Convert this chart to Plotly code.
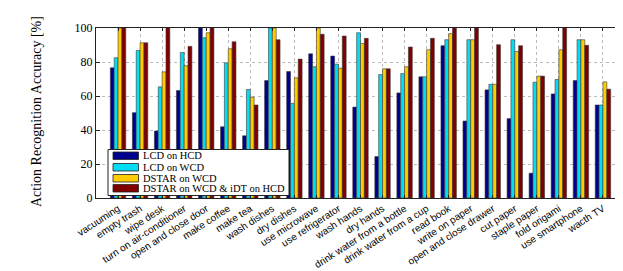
import plotly.graph_objects as go

categories = ["vacuuming", "empty trash", "wipe desk", "turn on air-conditioner",
              "open and close door", "make coffee", "make tea", "wash dishes",
              "dry dishes", "use microwave", "use refrigerator", "wash hands",
              "dry hands", "drink water from a bottle", "drink water from a cup",
              "read book", "write on paper", "open and close drawer", "cut paper",
              "staple paper", "fold origami", "use smartphone", "wacth TV"]

lcd_hcd = [76.6, 50.2, 39.4, 63.2, 100, 41.9, 36.6, 69.1, 74.4, 84.8, 83.5, 53.5,
           24.4, 61.8, 71.3, 89.6, 45.3, 63.6, 46.7, 14.6, 61.2, 69.1, 54.7]
lcd_wcd = [82.5, 86.8, 65.4, 85.6, 94.3, 79.5, 63.8, 100, 55.7, 77.2, 78.7, 97.2,
           72.6, 73.2, 71.3, 93.1, 93.1, 66.9, 93.1, 68.1, 69.7, 93.1, 54.7]
dstar_wcd = [100, 91.3, 74.2, 77.8, 97.2, 87.8, 59.3, 100, 70.7, 100, 76.4, 90.9,
             76.0, 77.2, 87.2, 96.7, 93.1, 66.9, 86.2, 71.7, 87.2, 93.1, 68.3]
dstar_idt = [100, 91.3, 100, 89.2, 100, 91.9, 54.7, 93.1, 81.7, 96.3, 95.3, 93.9,
             76.0, 88.8, 93.9, 100, 100, 90.2, 89.6, 71.7, 100, 89.8, 64.0]

series_names = ["LCD on HCD", "LCD on WCD", "DSTAR on WCD", "DSTAR on WCD & iDT on HCD"]
series_values = [lcd_hcd, lcd_wcd, dstar_wcd, dstar_idt]
colors = ["#00008C", "#00DDF5", "#FFCC00", "#800000"]
y_ticks = [0, 20, 40, 60, 80, 100]
y_title = "Action Recognition Accuracy [%]"

W, H = 623, 271
L, R, T, B = 88, 6, 20, 81
pw, ph = W - L - R, H - T - B

fig = go.Figure()
for name, vals, col in zip(series_names, series_values, colors):
    fig.add_trace(go.Bar(x=categories, y=vals, name=name, marker_color=col,
                         marker_line=dict(color="#3a3a3a", width=0.6),
                         showlegend=False))


def px2paper(x, y):
    return (x - L) / pw, (T + ph - y) / ph


shapes = []
annotations = []
# legend box
x0, y0 = px2paper(100, 141.5)
x1, y1 = px2paper(281, 187.5)
shapes.append(dict(type="rect", xref="paper", yref="paper", x0=x0, y0=y1, x1=x1, y1=y0,
                   fillcolor="white", line=dict(color="#222", width=1), layer="above"))
row_tops = [144, 155.5, 166.5, 176.5]
for name, col, top in zip(series_names, colors, row_tops):
    sx0, sy0 = px2paper(105, top)
    sx1, sy1 = px2paper(130.5, top + 7.5)
    shapes.append(dict(type="rect", xref="paper", yref="paper", x0=sx0, y0=sy1, x1=sx1, y1=sy0,
                       fillcolor=col, line=dict(color="#222", width=0.8), layer="above"))
    tx, ty = px2paper(133, top + 3.75)
    annotations.append(dict(xref="paper", yref="paper", x=tx, y=ty, text=name,
                            showarrow=False, xanchor="left", yanchor="middle",
                            font=dict(family="Liberation Serif", size=10.5, color="black")))

# y-axis title
ttx, tty = px2paper(28, 104)
annotations.append(dict(xref="paper", yref="paper", x=ttx, y=tty, text=y_title,
                        textangle=-90, showarrow=False, xanchor="center", yanchor="middle",
                        font=dict(family="Liberation Serif", size=14, color="black")))

fig.update_layout(
    width=W, height=H,
    margin=dict(l=L, r=R, t=T, b=B, autoexpand=False),
    paper_bgcolor="white", plot_bgcolor="white",
    barmode="group", bargap=0.3, bargroupgap=0,
    shapes=shapes, annotations=annotations,
    xaxis=dict(range=[-1, 23], tickangle=-33, type="category",
               tickfont=dict(family="Liberation Sans", size=10, color="black"),
               ticklabelstandoff=0,
               showgrid=True, gridcolor="#bbbbbb", griddash="dot", gridwidth=0.8,
               ticks="inside", ticklen=3, tickcolor="#222", mirror="ticks",
               showline=True, linecolor="#222", linewidth=1, automargin=False),
    yaxis=dict(range=[0, 100], tickvals=y_ticks,
               tickfont=dict(family="Liberation Serif", size=12, color="black"),
               showgrid=True, gridcolor="#bbbbbb", griddash="dot", gridwidth=0.8,
               ticks="inside", ticklen=4, tickcolor="#222", mirror="ticks",
               showline=True, linecolor="#222", linewidth=1, zeroline=False,
               automargin=False),
)

fig.write_html("out.html")
